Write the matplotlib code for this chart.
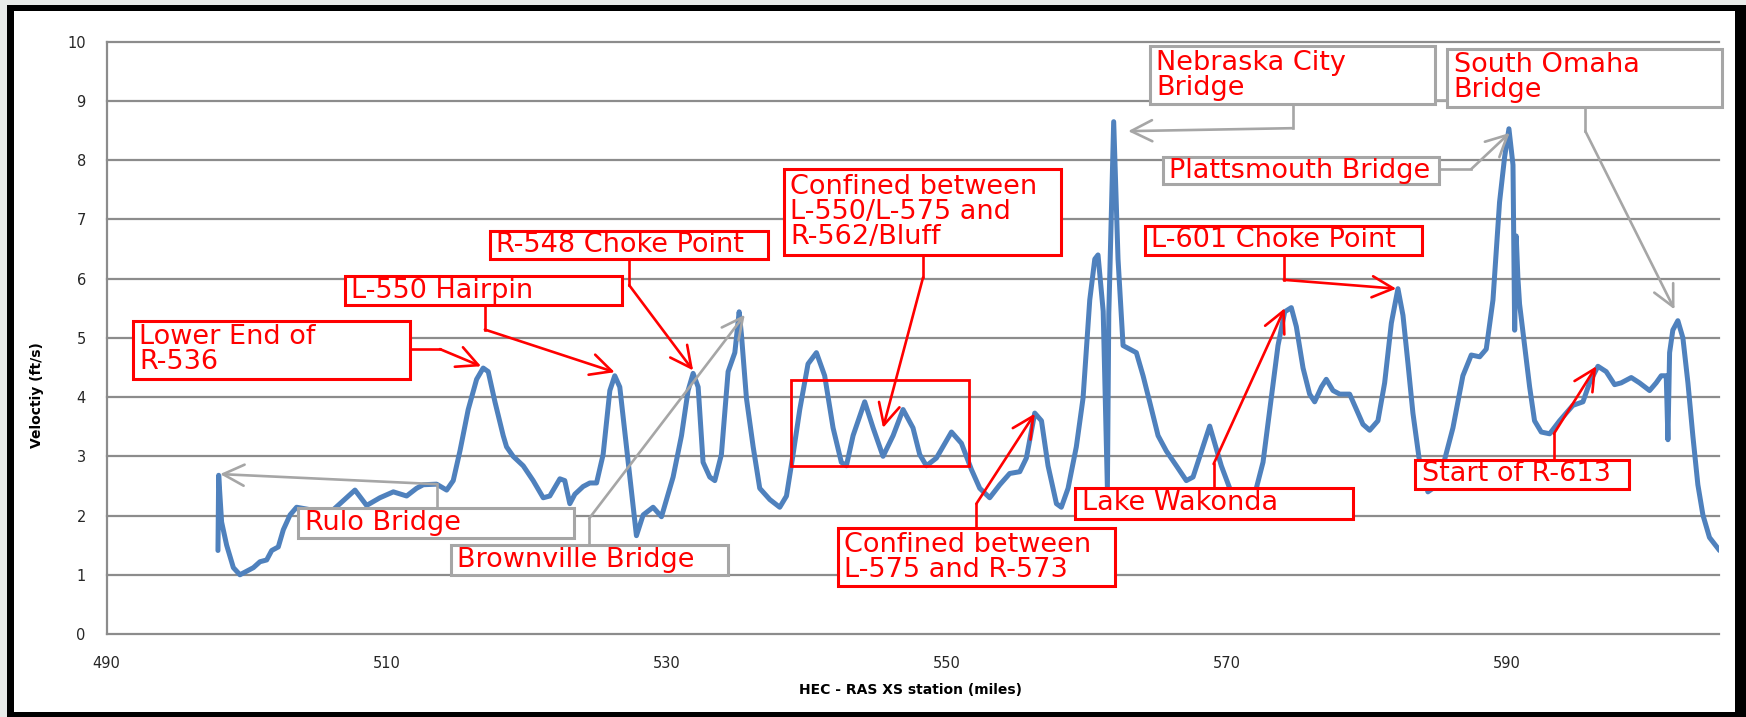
import matplotlib
matplotlib.use("Agg")
import matplotlib.pyplot as plt
from matplotlib.patches import Rectangle

# HEC-RAS cross-section station (river miles) and computed velocity (ft/s)
MILES = [
    497.95, 498.0, 498.21, 498.57, 499.05, 499.52, 500.0, 500.48, 500.95, 501.43,
    501.79, 502.26, 502.62, 503.1, 503.57, 504.5, 505.5, 506.2, 506.67, 507.74,
    508.57, 509.52, 510.48, 511.43, 512.14, 512.62, 513.57, 514.29, 514.76, 515.24,
    515.83, 516.43, 516.9, 517.26, 517.74, 518.33, 518.57, 519.04, 519.76, 520.47,
    521.19, 521.66, 522.38, 522.73, 523.09, 523.45, 524.04, 524.52, 525.0, 525.47,
    525.95, 526.3, 526.66, 527.14, 527.5, 527.85, 528.33, 529.04, 529.64, 530.0,
    530.47, 531.07, 531.54, 531.9, 532.26, 532.61, 533.09, 533.45, 533.92, 534.4,
    534.88, 535.19, 535.35, 535.71, 536.19, 536.66, 537.38, 538.09, 538.57, 539.04,
    539.52, 540.11, 540.71, 541.3, 541.9, 542.49, 542.85, 543.33, 544.16, 544.76,
    545.47, 546.19, 546.9, 547.61, 548.09, 548.57, 549.28, 550.36, 551.07, 551.78,
    552.38, 553.09, 553.81, 554.52, 555.24, 555.71, 556.31, 556.79, 557.26, 557.86,
    558.21, 558.69, 559.28, 559.76, 560.24, 560.6, 560.83, 561.2, 561.5, 561.6,
    561.95, 562.26, 562.62, 563.09, 563.57, 564.05, 564.52, 565.12, 565.71, 566.43,
    567.14, 567.62, 568.33, 568.81, 569.17, 569.64, 570.24, 571.2, 572.14, 572.62,
    573.21, 573.69, 574.17, 574.64, 575.0, 575.48, 575.95, 576.31, 576.79, 577.14,
    577.62, 578.1, 578.81, 579.29, 579.76, 580.24, 580.83, 581.31, 581.79, 582.26,
    582.62, 582.98, 583.33, 583.81, 584.4, 584.76, 585.48, 586.19, 586.9, 587.5,
    588.1, 588.57, 589.05, 589.52, 589.88, 590.19, 590.48, 590.6, 590.71, 590.83,
    590.95, 591.31, 591.67, 592.02, 592.5, 593.1, 593.81, 594.76, 595.48, 595.95,
    596.55, 597.14, 597.74, 598.21, 598.93, 599.52, 600.24, 600.71, 601.07, 601.43,
    601.55, 601.67, 601.9, 602.26, 602.62, 602.98, 603.33, 603.69, 604.05, 604.52,
    605.24,
]
VELOCITY = [
    1.41, 2.68, 1.89, 1.5, 1.12, 1.0, 1.06, 1.12, 1.22, 1.25,
    1.41, 1.47, 1.76, 2.01, 2.14, 2.1, 2.05, 2.1, 2.2, 2.43,
    2.17, 2.3, 2.4, 2.33, 2.46, 2.52, 2.53, 2.43, 2.59, 3.09,
    3.79, 4.3, 4.49, 4.43, 3.92, 3.35, 3.16, 3.0, 2.84, 2.59,
    2.3, 2.33, 2.62, 2.59, 2.2, 2.36, 2.49, 2.55, 2.55, 3.03,
    4.11, 4.36, 4.17, 3.16, 2.4, 1.66, 2.01, 2.14, 1.98, 2.27,
    2.65, 3.35, 4.11, 4.4, 4.17, 2.9, 2.65, 2.59, 3.03, 4.43,
    4.75, 5.44, 5.06, 3.98, 3.16, 2.46, 2.27, 2.14, 2.33, 3.03,
    3.79, 4.56, 4.75, 4.36, 3.48, 2.9, 2.84, 3.35, 3.92, 3.48,
    3.0, 3.35, 3.79, 3.48, 3.03, 2.84, 2.97, 3.41, 3.22, 2.78,
    2.46, 2.3, 2.52, 2.71, 2.74, 2.97, 3.73, 3.6, 2.84, 2.2,
    2.14, 2.46, 3.16, 3.98, 5.64, 6.33, 6.4, 5.45, 2.46, 5.4,
    8.65, 6.33, 4.87, 4.81, 4.75, 4.36, 3.92, 3.35, 3.09, 2.84,
    2.59, 2.65, 3.16, 3.51, 3.22, 2.84, 2.46, 2.2, 2.46, 2.9,
    3.98, 4.87, 5.44, 5.51, 5.19, 4.49, 4.05, 3.92, 4.17, 4.3,
    4.11, 4.05, 4.05, 3.79, 3.54, 3.44, 3.6, 4.24, 5.25, 5.83,
    5.38, 4.56, 3.73, 2.9, 2.4, 2.46, 2.84, 3.48, 4.36, 4.71,
    4.68, 4.81, 5.64, 7.29, 8.05, 8.53, 7.92, 5.13, 6.72, 6.02,
    5.57, 4.87, 4.17, 3.6, 3.41, 3.38, 3.6, 3.86, 3.92, 4.24,
    4.52, 4.43, 4.21, 4.24, 4.33, 4.24, 4.11, 4.24, 4.36, 4.36,
    3.28, 4.75, 5.13, 5.29, 5.0, 4.24, 3.35, 2.52, 2.01, 1.63,
    1.41,
]

X_TICKS = [490, 510, 530, 550, 570, 590]
Y_TICKS = list(range(0, 11))

# Callouts: label, box (x0, x1, y0, y1), leader polyline, arrow tip
REACH_CALLOUTS = [
    ("Lower End of\nR-536", (491.86, 511.67, 4.30, 5.29),
     [(511.67, 4.81), (513.81, 4.81)], (516.75, 4.52)),
    ("L-550 Hairpin", (507.02, 526.79, 5.55, 6.04),
     [(517.02, 5.55), (517.02, 5.14)], (526.3, 4.42)),
    ("R-548 Choke Point", (517.38, 537.26, 6.33, 6.81),
     [(527.33, 6.33), (527.33, 5.89)], (531.9, 4.45)),
    ("Confined between\nL-550/L-575 and\nR-562/Bluff", (538.38, 558.21, 6.40, 7.85),
     [(548.33, 6.40), (548.33, 6.02)], (545.47, 3.48)),
    ("Confined between\nL-575 and R-573", (542.26, 562.02, 0.81, 1.79),
     [(552.14, 1.79), (552.14, 2.20)], (556.31, 3.72)),
    ("Lake Wakonda", (559.21, 579.05, 1.95, 2.46),
     [(569.09, 2.46), (569.09, 2.87)], (574.17, 5.50)),
    ("L-601 Choke Point", (564.17, 584.00, 6.40, 6.89),
     [(574.10, 6.40), (574.10, 5.98)], (582.14, 5.83)),
    ("Start of R-613", (583.50, 598.77, 2.45, 2.94),
     [(593.40, 2.94), (593.40, 3.38)], (596.43, 4.52)),
]
BRIDGE_CALLOUTS = [
    ("Rulo Bridge", (503.69, 523.38, 1.62, 2.13),
     [(513.57, 2.13), (513.57, 2.53)], (498.1, 2.70)),
    ("Brownville Bridge", (514.60, 534.40, 1.00, 1.51),
     [(524.47, 1.51), (524.47, 1.95)], (535.59, 5.39)),
    ("Nebraska City\nBridge", (564.52, 584.91, 8.94, 9.92),
     [(574.75, 8.94), (574.75, 8.54)], (562.98, 8.49)),
    ("Plattsmouth Bridge", (565.48, 585.20, 7.59, 8.06),
     [(585.20, 7.85), (587.50, 7.85)], (590.24, 8.46)),
    ("South Omaha\nBridge", (585.80, 605.40, 8.90, 9.88),
     [(595.65, 8.90), (595.65, 8.49)], (602.02, 5.48)),
]
# reach outlined without a label (the R-562/Bluff confinement)
CONFINED_REACH = (538.92, 551.62, 2.84, 4.28)

W, H = 1746, 717
RED = "#ff0000"
GRAY = "#a6a6a6"
GRID = "#8c8c8c"
LINE = "#4f81bd"

fig = plt.figure(figsize=(W / 100, H / 100), dpi=100, facecolor="#e8ebe9")
# black slide frame with white chart area inside
fig.patches.append(Rectangle((7 / W, 0), 1 - 7 / W, 1 - 5 / H, transform=fig.transFigure,
                             facecolor="black", edgecolor="none", zorder=-10))
fig.patches.append(Rectangle((14 / W, 5 / H), (1735 - 14) / W, (706 - 5) / H,
                             transform=fig.transFigure, facecolor="white",
                             edgecolor="none", zorder=-9))

ax = fig.add_axes([106.7 / W, 1 - 634 / H, (1719 - 106.7) / W, (634 - 41.7) / H])
ax.set_facecolor("none")
ax.set_xlim(490, 605.2)
ax.set_ylim(0, 10)
ax.set_xticks(X_TICKS)
ax.set_yticks(Y_TICKS)
ax.tick_params(length=0, labelsize=10.5, labelcolor="#262626")
ax.tick_params(axis="x", pad=16)
ax.tick_params(axis="y", pad=15)
for side in ("top", "right", "bottom"):
    ax.spines[side].set_visible(False)
ax.spines["left"].set_color(GRID)
ax.spines["left"].set_linewidth(1.6)
ax.yaxis.grid(True, color=GRID, lw=1.6)
for gl in ax.get_ygridlines():
    gl.set_clip_on(False)
ax.set_axisbelow(True)

ax.plot(MILES, VELOCITY, color=LINE, lw=3.6, solid_joinstyle="round",
        solid_capstyle="round", zorder=3)

ax.add_patch(Rectangle((CONFINED_REACH[0], CONFINED_REACH[2]),
                       CONFINED_REACH[1] - CONFINED_REACH[0],
                       CONFINED_REACH[3] - CONFINED_REACH[2],
                       facecolor="none", edgecolor=RED, lw=2.0, zorder=4))


def callout(label, box, leader, tip, edge):
    x0, x1, y0, y1 = box
    ax.add_patch(Rectangle((x0, y0), x1 - x0, y1 - y0, facecolor="white",
                           edgecolor=edge, lw=2.2, zorder=6, clip_on=False))
    ax.annotate(label, xy=(x0, (y0 + y1) / 2), xytext=(4.5, 0), textcoords="offset points",
                ha="left", va="center", color=RED, fontsize=19.5, linespacing=0.95,
                zorder=7, annotation_clip=False)
    xs, ys = zip(*leader)
    ax.plot(xs, ys, color=edge, lw=1.9, zorder=5, clip_on=False)
    ax.annotate("", xy=tip, xytext=leader[-1], zorder=5, annotation_clip=False,
                arrowprops=dict(arrowstyle="->,head_length=0.8,head_width=0.4",
                                color=edge, lw=1.9, shrinkA=0, shrinkB=0,
                                mutation_scale=19))


for label, box, leader, tip in REACH_CALLOUTS:
    callout(label, box, leader, tip, RED)
for label, box, leader, tip in BRIDGE_CALLOUTS:
    callout(label, box, leader, tip, GRAY)
# short stub between the two upstream bridge boxes
ax.plot([584.91, 585.80], [9.02, 9.02], color=GRAY, lw=1.9, zorder=5, clip_on=False)

fig.text(37 / W, 1 - 395 / H, "Veloctiy (ft/s)", rotation=90, ha="center", va="center",
         fontsize=10, fontweight="bold")
fig.text(910 / W, 1 - 690 / H, "HEC - RAS XS station (miles)", ha="center", va="center",
         fontsize=10, fontweight="bold")

fig.savefig("out.png", dpi=100, facecolor=fig.get_facecolor())
